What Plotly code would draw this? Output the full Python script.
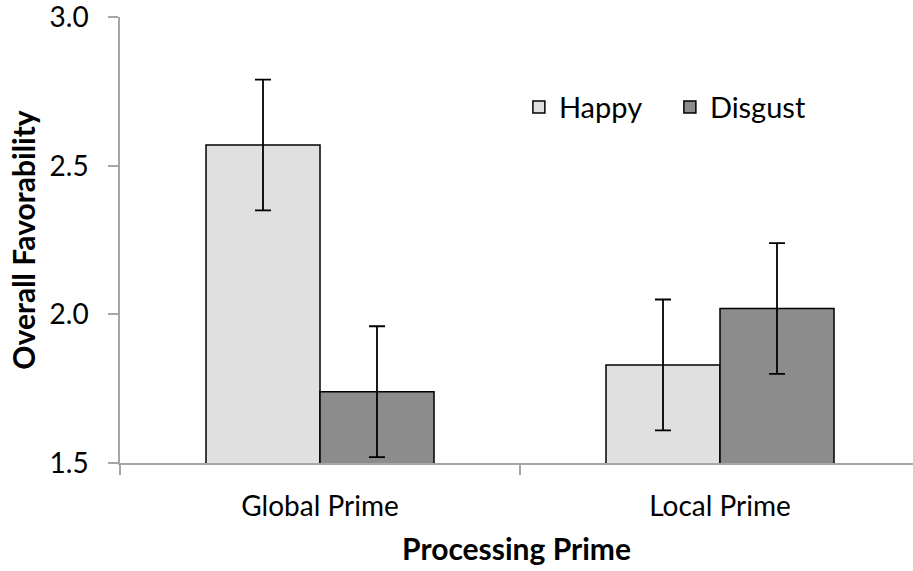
import plotly.graph_objects as go

categories = ["Global Prime", "Local Prime"]
happy = [2.57, 1.83]
disgust = [1.74, 2.02]
happy_err = [0.22, 0.22]
disgust_err = [0.22, 0.22]
y_ticks = [1.5, 2.0, 2.5, 3.0]
y_tick_labels = ["1.5", "2.0", "2.5", "3.0"]

FONT = "Lato"

fig = go.Figure()
fig.add_trace(go.Bar(
    name="Happy", x=categories, y=happy,
    marker=dict(color="#e0e0e0", line=dict(color="black", width=1.5)),
    error_y=dict(type="data", array=happy_err, visible=True, color="black", thickness=1.8, width=8),
))
fig.add_trace(go.Bar(
    name="Disgust", x=categories, y=disgust,
    marker=dict(color="#8c8c8c", line=dict(color="black", width=1.5)),
    error_y=dict(type="data", array=disgust_err, visible=True, color="black", thickness=1.8, width=8),
))

fig.update_layout(
    width=913, height=571,
    margin=dict(l=120, r=0, t=17, b=108),
    paper_bgcolor="white", plot_bgcolor="white",
    barmode="group", bargap=0.43, bargroupgap=0,
    font=dict(family=FONT, size=28, color="black"),
    showlegend=True,
    legend=dict(orientation="h", x=0.503, y=0.855, xanchor="left", yanchor="top",
                font=dict(family=FONT, size=29), bgcolor="rgba(0,0,0,0)",
                entrywidth=106, entrywidthmode="pixels", traceorder="normal"),
    xaxis=dict(
        type="category", range=[-0.5, 1.4825],
        tickson="boundaries", ticks="outside", ticklen=10, tickcolor="#a6a6a6", tickwidth=1.5,
        showline=True, linecolor="#a6a6a6", linewidth=1.5,
        showgrid=False, tickfont=dict(family=FONT, size=28), ticklabelstandoff=18,
        title=dict(text="<b>Processing Prime</b>", font=dict(family=FONT, size=30), standoff=18),
    ),
    yaxis=dict(
        range=[1.5, 3.0005], tickvals=y_ticks, ticktext=y_tick_labels,
        ticks="outside", ticklen=10, tickcolor="#a6a6a6", tickwidth=1.5,
        showline=True, linecolor="#a6a6a6", linewidth=1.5,
        showgrid=False, zeroline=False, tickfont=dict(family=FONT, size=28), ticklabelstandoff=14,
        ticklabeloverflow="allow",
        title=dict(text="<b>Overall Favorability</b>", font=dict(family=FONT, size=30), standoff=5),
    ),
)

fig.write_html("out.html", config={"displayModeBar": False},
               post_script="document.body.style.margin='0';")
